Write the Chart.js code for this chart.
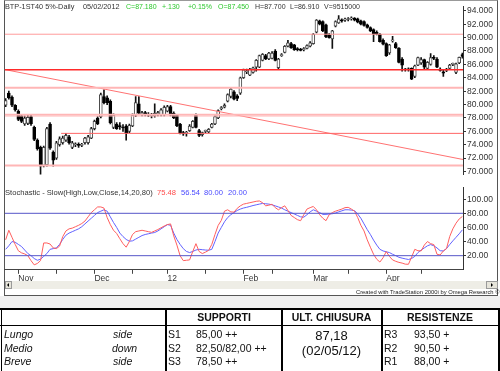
<!DOCTYPE html>
<html>
<head>
<meta charset="utf-8">
<script src="https://cdn.jsdelivr.net/npm/chart.js@4.4.1/dist/chart.umd.min.js"></script>
<style>
  body { margin: 0; width: 500px; height: 371px; background: #fff; position: relative; overflow: hidden;
         font-family: "Liberation Sans", Arial, sans-serif; color: #222; }
  #win { position: absolute; left: 4px; top: 0; width: 492px; height: 294px; background: #fff;
         border: 1px solid #555; border-top-color: #999; }
  canvas { position: absolute; left: 0; }
  #price { top: 0; }
  #stoch { top: 181px; }
  .t { position: absolute; font-size: 7.6px; line-height: 9px; white-space: nowrap; color: #333; }
  .s { font-size: 7px; }
  .w { font-size: 7.3px; }
  .g { color: #2ec82e; }
  .r { color: #ff4a4a; }
  .b { color: #4a4aff; }
  #band { position: absolute; left: 0; top: 296px; width: 500px; height: 12px; background: #f0f0f0; }
  #scroll { position: absolute; left: 5px; top: 281px; width: 492px; height: 8px; background: #eeede6; }
  .btn { position: absolute; top: 0; height: 6px; background: #e6e4da; border: 1px solid #9a9a9a; }
  .btn i { position: absolute; top: 1px; width: 0; height: 0; border-top: 2px solid transparent; border-bottom: 2px solid transparent; }
  #credit { position: absolute; left: 356px; top: 289px; font-size: 5.8px; line-height: 6px; white-space: nowrap; color: #222; }
  #tbl { position: absolute; left: 0; top: 308px; width: 500px; height: 63px; background: #fff; }
  .hl { position: absolute; background: #000; }
  .c { position: absolute; font-size: 10.5px; line-height: 12px; white-space: nowrap; color: #111; }
  .it { font-style: italic; }
  .hd { font-weight: bold; text-align: center; }
  .big { font-size: 13px; line-height: 15px; text-align: center; }
</style>
</head>
<body>
<div id="win"></div>
<canvas id="price" width="500" height="181"></canvas>
<canvas id="stoch" width="500" height="104"></canvas>

<div class="t w" style="left:5px;top:1.5px">BTP-1ST40 5%-Daily</div>
<div class="t w" style="left:83px;top:1.5px">05/02/2012</div>
<div class="t s g" style="left:126px;top:1.5px">C=87.180</div>
<div class="t s g" style="left:162px;top:1.5px">+.130</div>
<div class="t s g" style="left:188px;top:1.5px">+0.15%</div>
<div class="t s g" style="left:218px;top:1.5px">O=87.450</div>
<div class="t s" style="left:255px;top:1.5px">H=87.700</div>
<div class="t s" style="left:290px;top:1.5px">L=86.910</div>
<div class="t s" style="left:324px;top:1.5px">V=9515000</div>

<div class="t" style="left:5px;top:188px">Stochastic - Slow(High,Low,Close,14,20,80)</div>
<div class="t r" style="left:157px;top:188px">75.48</div>
<div class="t b" style="left:181px;top:188px">56.54</div>
<div class="t b" style="left:204px;top:188px">80.00</div>
<div class="t b" style="left:228px;top:188px">20.00</div>

<div id="scroll">
  <div class="btn" style="left:0;width:5px"><i style="left:1px;border-right:2px solid #000"></i></div>
  <div class="btn" style="left:481px;width:10px"><i style="left:4px;border-left:2px solid #000"></i></div>
</div>
<div id="credit">Created with TradeStation 2000i by Omega Research © 1999</div>
<div id="band"></div>

<div id="tbl">
  <div class="hl" style="left:0;top:0;width:500px;height:2px"></div>
  <div class="hl" style="left:0;top:17px;width:500px;height:1px"></div>
  <div class="hl" style="left:0.5px;top:0;width:1.5px;height:63px"></div>
  <div class="hl" style="left:165px;top:0;width:2px;height:63px"></div>
  <div class="hl" style="left:280.5px;top:0;width:2px;height:63px"></div>
  <div class="hl" style="left:380.5px;top:0;width:2px;height:63px"></div>
  <div class="hl" style="left:498px;top:0;width:2px;height:63px"></div>

  <div class="c hd" style="left:167px;width:114px;top:3px">SUPPORTI</div>
  <div class="c hd" style="left:282px;width:99px;top:3px">ULT. CHIUSURA</div>
  <div class="c hd" style="left:382px;width:116px;top:3px">RESISTENZE</div>

  <div class="c it" style="left:4px;top:19.5px">Lungo</div>
  <div class="c it" style="left:113px;top:19.5px">side</div>
  <div class="c it" style="left:4px;top:33.5px">Medio</div>
  <div class="c it" style="left:112px;top:33.5px">down</div>
  <div class="c it" style="left:4px;top:47px">Breve</div>
  <div class="c it" style="left:113px;top:47px">side</div>

  <div class="c" style="left:168px;top:19.5px">S1</div>
  <div class="c" style="left:196px;top:19.5px">85,00 ++</div>
  <div class="c" style="left:168px;top:33.5px">S2</div>
  <div class="c" style="left:196px;top:33.5px">82,50/82,00 ++</div>
  <div class="c" style="left:168px;top:47px">S3</div>
  <div class="c" style="left:196px;top:47px">78,50 ++</div>

  <div class="c big" style="left:282px;width:99px;top:19.5px">87,18</div>
  <div class="c big" style="left:282px;width:99px;top:35px">(02/05/12)</div>

  <div class="c" style="left:384px;top:19.5px">R3</div>
  <div class="c" style="left:414px;top:19.5px">93,50 +</div>
  <div class="c" style="left:384px;top:33.5px">R2</div>
  <div class="c" style="left:414px;top:33.5px">90,50 +</div>
  <div class="c" style="left:384px;top:47px">R1</div>
  <div class="c" style="left:414px;top:47px">88,00 +</div>
</div>

<script>
// daily bars, Oct 2011 -> 05/02/2012
const opens = [79.9,81.7,81.1,79.9,79.0,78.3,77.1,77.2,78.2,76.6,
  74.7,73.6,70.9,71.0,77.1,72.9,72.0,74.0,74.3,74.7,
  75.2,73.6,74.0,74.0,73.9,74.3,74.3,75.0,76.4,78.0,
  78.2,81.2,81.0,80.5,76.6,77.1,76.8,76.6,76.8,76.0,
  76.8,78.4,80.1,78.6,78.8,78.5,78.3,78.3,78.6,78.5,
  78.5,79.0,79.7,78.7,78.4,77.1,75.8,75.7,76.1,76.6,
  78.4,76.1,75.5,76.0,75.9,76.6,77.1,78.0,79.4,79.6,
  80.5,81.2,81.9,81.3,81.7,84.0,84.9,84.4,84.8,85.6,
  85.6,86.6,87.3,86.8,86.9,88.0,85.5,87.3,87.8,88.7,
  89.1,88.9,88.3,88.2,88.2,88.4,88.7,89.1,90.8,92.5,
  92.4,91.9,90.4,89.8,91.7,92.2,92.6,92.6,92.7,92.8,
  92.9,92.8,92.5,92.4,91.9,91.5,91.2,90.8,90.5,89.6,
  89.1,87.7,89.5,89.1,88.4,86.8,85.2,85.3,85.4,84.2,
  85.9,86.2,86.7,85.4,86.0,87.0,86.8,85.3,84.9,85.1,
  85.4,86.0,84.8,86.2,87.45];
const highs = [80.9,82.0,81.3,80.0,79.2,78.5,78.3,78.4,78.4,76.8,
  74.9,73.8,73.8,76.6,77.3,73.1,74.5,75.2,75.3,75.7,
  75.4,74.5,74.3,74.3,74.2,75.1,75.4,76.6,77.7,78.2,
  81.7,82.2,81.3,80.7,78.6,77.3,77.3,77.0,77.0,77.1,
  78.6,81.2,81.2,79.0,79.0,78.8,78.7,80.1,79.0,79.4,
  79.8,79.9,79.9,78.9,78.5,77.2,76.0,76.0,77.0,77.6,
  78.6,76.3,75.9,76.2,76.4,77.2,78.3,79.2,79.7,80.1,
  81.6,82.5,82.1,81.5,84.1,85.3,85.3,85.4,85.6,86.7,
  87.4,87.6,87.5,87.8,87.9,88.2,86.9,87.6,88.8,89.6,
  89.3,89.0,88.5,88.4,88.5,88.9,89.4,90.6,92.7,92.6,
  92.5,92.0,90.6,91.1,92.5,93.3,92.8,92.9,93.0,93.1,
  93.0,92.9,92.6,92.5,92.0,91.6,91.3,91.0,90.6,89.8,
  89.2,89.0,90.2,89.3,88.5,87.0,85.4,85.5,85.5,85.9,
  87.1,87.0,86.8,86.4,87.6,87.3,87.0,85.5,85.1,85.4,
  86.0,86.2,86.2,87.1,87.70];
const lows = [79.7,80.8,79.7,79.0,77.6,77.3,76.9,77.0,76.9,74.6,
  73.2,69.6,70.7,70.8,73.3,70.8,71.8,73.8,74.1,74.5,
  74.1,73.4,73.7,73.6,73.7,74.1,74.1,74.9,76.2,77.0,
  78.0,80.1,80.0,77.1,76.4,76.3,76.3,76.0,74.7,75.8,
  76.7,78.2,78.5,78.3,78.3,78.2,78.0,78.1,78.3,78.3,
  78.3,78.9,78.3,77.9,76.7,75.6,75.4,75.3,76.0,76.5,
  76.5,75.2,75.3,75.8,75.8,76.5,77.0,77.9,79.2,79.5,
  80.4,81.0,80.7,80.6,81.5,83.9,84.6,84.3,84.7,85.0,
  85.5,86.5,86.7,86.7,86.8,86.5,85.3,87.2,87.7,88.6,
  88.4,88.1,88.0,88.0,88.0,88.3,88.6,89.0,90.7,91.9,
  90.9,90.0,89.9,88.4,91.6,92.1,92.3,92.4,92.5,92.6,
  92.5,92.2,91.9,91.7,91.4,90.9,89.4,90.4,89.3,88.9,
  87.2,87.5,89.3,88.4,86.2,85.0,85.0,85.0,83.7,84.0,
  85.8,86.0,85.3,85.3,85.9,86.7,85.5,85.0,84.2,84.9,
  85.3,85.8,84.6,86.1,86.91];
const closes = [80.6,81.0,79.9,79.2,77.8,77.5,78.0,78.1,77.1,74.8,
  73.4,70.8,73.6,76.4,73.5,71.7,74.3,74.9,75.0,75.4,
  74.3,74.3,74.1,73.9,74.0,75.0,75.2,76.4,77.5,77.1,
  81.5,80.3,80.3,77.3,78.4,76.4,76.7,76.5,75.7,76.9,
  78.4,80.3,78.7,78.8,78.5,78.4,78.5,78.7,78.8,79.2,
  79.6,79.7,78.4,78.0,76.8,75.7,75.6,75.8,76.8,77.5,
  76.6,75.4,75.8,76.0,76.3,77.1,78.2,79.1,79.5,79.9,
  81.5,82.3,80.8,80.9,84.0,85.2,85.0,85.3,85.5,86.6,
  87.3,87.5,86.8,87.7,87.7,86.6,86.8,87.4,88.7,89.2,
  88.5,88.2,88.2,88.1,88.3,88.8,89.2,90.5,92.6,92.0,
  91.0,90.1,90.0,91.0,92.4,92.8,92.5,92.7,92.8,92.9,
  92.6,92.3,92.0,91.8,91.5,91.0,90.5,90.5,89.4,89.0,
  87.3,88.9,89.6,88.5,86.3,85.9,85.3,85.2,83.8,85.8,
  87.0,86.7,85.6,86.3,87.0,86.9,85.6,85.1,84.7,85.2,
  85.9,86.0,86.1,87.05,87.18];

// Stochastic slow: %K (red) and %D (blue)
const stochK = [42.5,56,46,36,27,24,22.5,20,13,7,
  9,13,38,38,36.5,31,30,33.5,47,55,
  58,59,61,63,65.5,69,75,81,85,89,
  89,87.4,74,64,56,51.4,44,37,32,40,
  50,54,55,56,55,54,53,55,57,59.5,
  62,64,65,48,35,20,13,13.5,14,26,
  37,26,23,25,27.5,36,50,62.8,70,83,
  85,82,81.6,87,90.6,93,94,95,96,97,
  97.5,95,90.6,91.5,92.8,88,85,88,90.6,84,
  77,74,71,69.5,78,86,88,89.7,85,78,
  73,69.5,78,81,83,84.5,86,88,88.4,86,
  83,74,63,55,42.5,32,22,15,11,17,
  25.8,19,14,12,10.5,9.5,8,7.8,18,29,
  27,26.7,35,40,37,35.7,22,21,26.7,30,
  47,58,66,72,75.48];
const stochD = [29,34,40,39,36,33,28,23,20,16,
  13.5,15,19,23,29,30,31,36,43,49,
  52,54,56,58,61,65,69,73,77,81,
  83,85,83,75,67,60,52,47,43,40.5,
  41,43.5,46,48.5,50,51,52,52.8,55,58,
  61,64,63,52,43,36,30,26,24.4,26,
  28,29,28.5,28,27.7,29,40,52,60,68,
  74,78,81,84,86,87.5,88.5,89.7,91,92,
  93,94,93.5,93,92,90.5,89,87.4,85,83,
  81,79,77,75,74.5,78,82,85,83,81,
  78.4,78.5,79,79.4,80.5,82,83.5,85,85,84.5,
  83.8,79,73,65,57,50,42,35,29,26.7,
  25.5,24.4,22,20,17.7,16.5,15.5,14.6,16,19,
  24.4,28,31,34,35.7,34,31,27,26.7,30,
  35.7,41,46,51,56.54];
const stochLevels = [80, 20];

// horizontal support / resistance lines and the falling trend line
const levels = [90.5, 85.2, 82.5, 78.55, 78.3, 75.7, 70.9];
const levelFrom = [-0.3, -0.3, -0.3, -0.3, -0.3, 17.5, -0.3];
const trendStart = [-0.3, 85.23];
const trendEnd = [144.2, 71.8];

const priceTicks = [70, 72, 74, 76, 78, 80, 82, 84, 86, 88, 90, 92, 94];
const stochTicks = [20, 40, 60, 80, 100];
const monthTicks = [4, 28, 51, 75, 97, 120];
const monthNames = ['Nov', 'Dec', '12', 'Feb', 'Mar', 'Apr'];
const midTicks = [16, 40, 63, 84, 108, 131];

const xMin = -0.3, xMax = closes.length - 1 + 0.2;
const levelColors = ['#ff9c9c', '#ff2a2a', '#ffb6b6', '#ffb6b6', '#ffb6b6', '#ff6464', '#ffb6b6'];
const levelWidths = [1, 1.6, 2, 1.3, 1.3, 1, 2];

Chart.defaults.font.family = '"Liberation Sans", Arial, sans-serif';
Chart.defaults.color = '#333';

const axisFont = { size: 8.5 };
const up = closes.map((c, i) => c >= opens[i]);

const levelSets = levels.map((v, k) => ({
  type: 'line',
  data: [{ x: levelFrom[k], y: v }, { x: xMax, y: v }],
  borderColor: levelColors[k],
  borderWidth: levelWidths[k],
  pointRadius: 0,
  order: 0
}));

new Chart(document.getElementById('price'), {
  type: 'bar',
  data: {
    datasets: [
      ...levelSets,
      {
        type: 'line',
        data: [{ x: trendStart[0], y: trendStart[1] }, { x: trendEnd[0], y: trendEnd[1] }],
        borderColor: '#ff7272',
        borderWidth: 1,
        pointRadius: 0,
        order: 0
      },
      {
        data: opens.map((o, i) => ({ x: i, y: [o, closes[i]] })),
        backgroundColor: up.map(u => u ? '#ffffff' : '#000000'),
        borderColor: up.map(u => u ? '#474747' : '#000000'),
        borderWidth: 1,
        borderSkipped: false,
        barThickness: 3,
        minBarLength: 1,
        grouped: false,
        order: 1
      },
      {
        data: lows.map((l, i) => ({ x: i, y: [l, highs[i]] })),
        backgroundColor: '#111',
        borderWidth: 0,
        barThickness: 1,
        grouped: false,
        order: 2
      }
    ]
  },
  options: {
    responsive: false,
    animation: false,
    events: [],
    layout: { padding: { left: 4.7, top: 0, right: 0, bottom: 0 } },
    plugins: { legend: { display: false }, tooltip: { enabled: false } },
    scales: {
      x: { type: 'linear', min: xMin, max: xMax, offset: false, display: false },
      y: {
        position: 'right', min: 69.5, max: 94.7,
        afterBuildTicks: s => { s.ticks = priceTicks.map(v => ({ value: v })); },
        afterFit: s => { s.width = 37; },
        grid: { drawOnChartArea: false, tickLength: 3, color: '#333' },
        border: { color: '#333' },
        ticks: { callback: v => v.toFixed(3), font: axisFont, color: '#333', padding: 1 }
      }
    }
  }
});

new Chart(document.getElementById('stoch'), {
  type: 'line',
  data: {
    datasets: [
      ...stochLevels.map(v => ({
        data: [{ x: xMin, y: v }, { x: xMax, y: v }],
        borderColor: '#5656c8', borderWidth: 1, pointRadius: 0
      })),
      {
        data: stochK.map((v, i) => ({ x: i, y: v })),
        borderColor: '#ff5e5e', borderWidth: 1, pointRadius: 0, tension: 0
      },
      {
        data: stochD.map((v, i) => ({ x: i, y: v })),
        borderColor: '#6262ff', borderWidth: 1, pointRadius: 0, tension: 0
      }
    ]
  },
  options: {
    responsive: false,
    animation: false,
    events: [],
    layout: { padding: { left: 4.7, top: 2, right: 0, bottom: 0 } },
    plugins: { legend: { display: false }, tooltip: { enabled: false } },
    scales: {
      x: {
        type: 'linear', min: xMin, max: xMax, offset: false,
        afterBuildTicks: s => {
          s.ticks = [...monthTicks, ...midTicks].sort((a, b) => a - b).map(v => ({ value: v }));
        },
        afterFit: s => { s.height = 15.2; },
        grid: { drawOnChartArea: false, tickLength: 4, color: '#444' },
        border: { color: '#444' },
        ticks: {
          autoSkip: false, maxRotation: 0, align: 'start', padding: 0,
          font: { size: 8.5 }, color: '#333',
          callback: v => { const k = monthTicks.indexOf(v); return k >= 0 ? monthNames[k] : ''; }
        }
      },
      y: {
        position: 'right', min: 0, max: 117.1,
        afterBuildTicks: s => { s.ticks = stochTicks.map(v => ({ value: v })); },
        afterFit: s => { s.width = 37; },
        grid: { drawOnChartArea: false, tickLength: 3, color: '#333' },
        border: { color: '#333' },
        ticks: { callback: v => v.toFixed(2), font: axisFont, color: '#333', padding: 1 }
      }
    }
  }
});
</script>
</body>
</html>
